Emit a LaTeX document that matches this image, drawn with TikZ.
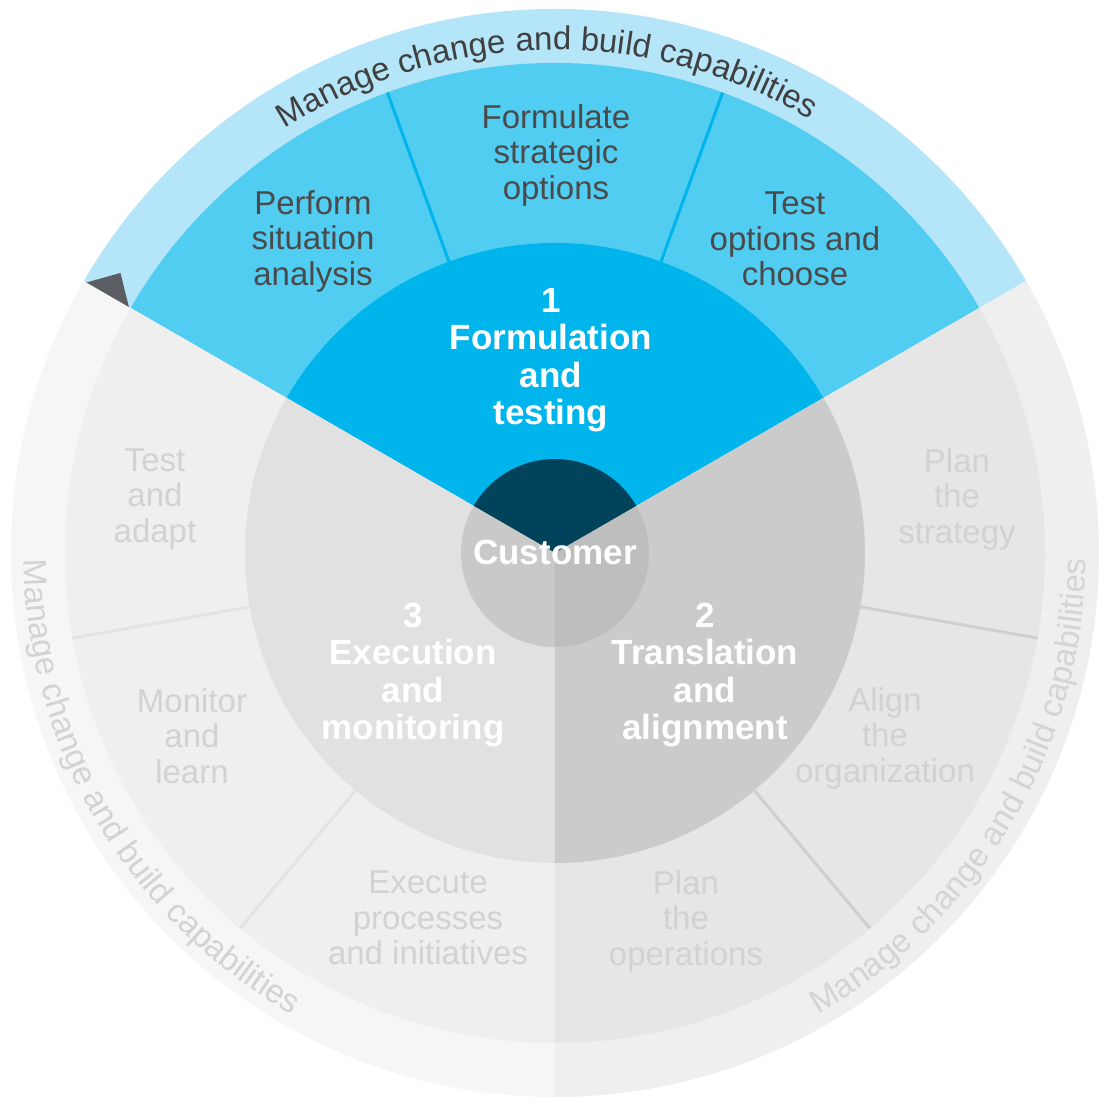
\documentclass[tikz,border=0pt]{standalone}
\usepackage{fontspec}
\setmainfont{Liberation Sans}
\usetikzlibrary{decorations.text}
\definecolor{lbband}{HTML}{B5E5F8}
\definecolor{midblue}{HTML}{52CDF2}
\definecolor{innerblue}{HTML}{00B5EC}
\definecolor{darkcust}{HTML}{00435A}
\definecolor{toptext}{HTML}{4A4A4A}
\definecolor{topcurve}{HTML}{404040}
\definecolor{lout}{HTML}{F6F6F6}
\definecolor{lmid}{HTML}{EFEFEF}
\definecolor{linn}{HTML}{E1E1E1}
\definecolor{lcust}{HTML}{C9C9C9}
\definecolor{rout}{HTML}{EFEFEF}
\definecolor{rmid}{HTML}{E6E6E6}
\definecolor{rinn}{HTML}{CBCBCB}
\definecolor{rcust}{HTML}{BEBEBE}
\definecolor{ldiv}{HTML}{E3E3E3}
\definecolor{rdiv}{HTML}{CFCFCF}
\definecolor{greytext}{HTML}{D2D2D2}
\definecolor{lcurve}{HTML}{D3D3D3}
\definecolor{rcurve}{HTML}{D4D4D4}
\definecolor{tri}{HTML}{5A5E62}
\newcommand\segfont{\fontsize{33}{35.5}\selectfont}
\newcommand\stagefont{\fontsize{35}{37.5}\selectfont\bfseries}
\newcommand\curvefont{\fontsize{33}{33}\selectfont}
\begin{document}
\begin{tikzpicture}[x=1pt,y=1pt,
  seg/.style={align=center, font=\segfont, inner sep=0pt},
  toplabel/.style={seg, text=toptext},
  greylabel/.style={seg, text=greytext},
  stage/.style={align=center, font=\stagefont, inner sep=0pt, text=white},
  bluediv/.style={draw=innerblue, line width=3pt},
  leftdiv/.style={draw=ldiv, line width=3pt},
  rightdiv/.style={draw=rdiv, line width=3pt}]
\useasboundingbox (-555,-556) rectangle (554,553);
\def\Ro{544}\def\Rm{490}\def\Ri{310}\def\Rc{94}
% top sector (formulation)
\fill[lbband] (0,0) -- (30:\Ro) arc[start angle=30,end angle=150,radius=\Ro] -- cycle;
\fill[midblue] (0,0) -- (30:\Rm) arc[start angle=30,end angle=150,radius=\Rm] -- cycle;
\fill[innerblue] (0,0) -- (30:\Ri) arc[start angle=30,end angle=150,radius=\Ri] -- cycle;
% left sector (execution)
\fill[lout] (0,0) -- (150:\Ro) arc[start angle=150,end angle=270,radius=\Ro] -- cycle;
\fill[lmid] (0,0) -- (150:\Rm) arc[start angle=150,end angle=270,radius=\Rm] -- cycle;
\fill[linn] (0,0) -- (150:\Ri) arc[start angle=150,end angle=270,radius=\Ri] -- cycle;
% right sector (translation)
\fill[rout] (0,0) -- (270:\Ro) arc[start angle=270,end angle=390,radius=\Ro] -- cycle;
\fill[rmid] (0,0) -- (270:\Rm) arc[start angle=270,end angle=390,radius=\Rm] -- cycle;
\fill[rinn] (0,0) -- (270:\Ri) arc[start angle=270,end angle=390,radius=\Ri] -- cycle;
% dividers
\draw[bluediv] (110:\Ri) -- (110:\Rm);
\draw[bluediv] (70:\Ri) -- (70:\Rm);
\draw[leftdiv] (190:\Ri) -- (190:\Rm);
\draw[leftdiv] (230:\Ri) -- (230:\Rm);
\draw[rightdiv] (-10:\Ri) -- (-10:\Rm);
\draw[rightdiv] (-50:\Ri) -- (-50:\Rm);
% customer circle
\fill[darkcust] (0,0) -- (30:\Rc) arc[start angle=30,end angle=150,radius=\Rc] -- cycle;
\fill[lcust] (0,0) -- (150:\Rc) arc[start angle=150,end angle=270,radius=\Rc] -- cycle;
\fill[rcust] (0,0) -- (270:\Rc) arc[start angle=270,end angle=390,radius=\Rc] -- cycle;
% small triangle
\fill[tri] (150:541) -- (147.2:517) -- (150:492) -- cycle;
% curved texts
\path[decorate, decoration={text along path, text align=center,
  text={|\curvefont\color{topcurve}|Manage change and build capabilities}}]
  (150:503) arc[start angle=150,end angle=32,radius=503];
\path[decorate, decoration={text along path, text align=center,
  text={|\curvefont\color{lcurve}|Manage change and build capabilities}}]
  (151:531) arc[start angle=151,end angle=270,radius=531];
\path[decorate, decoration={text along path, text align=center,
  text={|\curvefont\color{rcurve}|Manage change and build capabilities}}]
  (270:531) arc[start angle=270,end angle=389,radius=531];
% labels
\node[toplabel] (perform) at (-242,312) {Perform\\situation\\analysis};
\node[toplabel] (formulate) at (1,398) {Formulate\\strategic\\options};
\node[toplabel] (testopt) at (240,314) {Test\\options and\\choose};
\node[stage] (stage1) at (-4,193) {1\\Formulation\\and\\testing};
\node[stage] (customer) at (0,1) {Customer};
\node[stage] (stage2) at (150,-122) {2\\Translation\\and\\alignment};
\node[stage] (stage3) at (-142,-122) {3\\Execution\\and\\monitoring};
\node[greylabel] (testadapt) at (-400,54) {Test\\and\\adapt};
\node[greylabel] (monitor) at (-363,-183) {Monitor\\and\\learn};
\node[greylabel] (execute) at (-127,-365) {Execute\\processes\\and initiatives};
\node[greylabel] (planops) at (131,-368) {Plan\\the\\operations};
\node[greylabel] (align) at (330,-185) {Align\\the\\organization};
\node[greylabel] (planstrat) at (402,54) {Plan\\the\\strategy};
\end{tikzpicture}
\end{document}
